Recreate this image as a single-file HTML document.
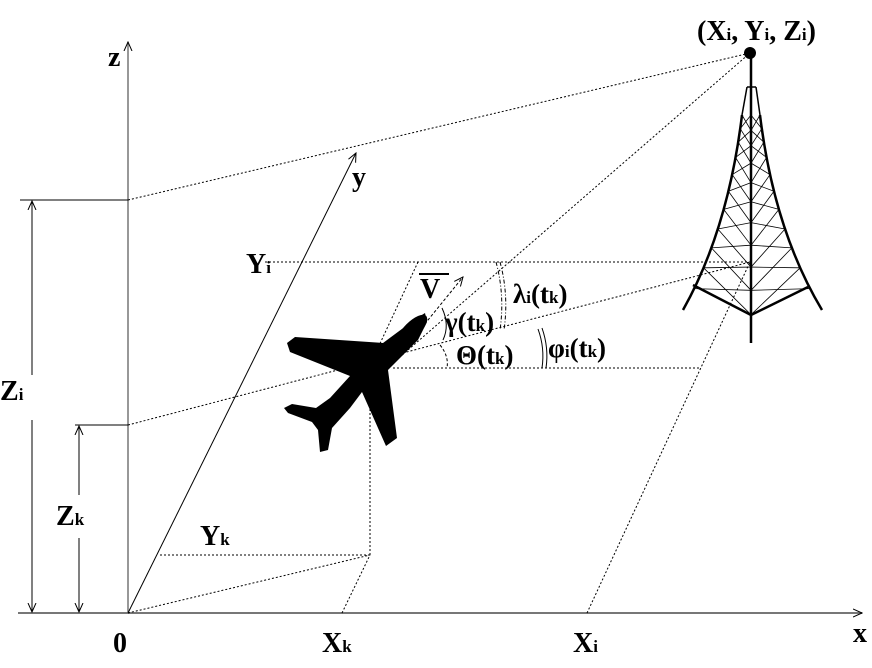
<!DOCTYPE html>
<html><head><meta charset="utf-8"><style>
html,body{margin:0;padding:0;background:#fff;}
svg text{font-family:"Liberation Serif",serif;font-weight:bold;fill:#000;}
</style></head><body>
<svg id="s" width="872" height="663" viewBox="0 0 872 663" xmlns="http://www.w3.org/2000/svg">
<defs>
<marker id="ar" markerWidth="10" markerHeight="10" refX="9" refY="5" orient="auto" markerUnits="userSpaceOnUse"><path d="M0,1 L9,5 L0,9" fill="none" stroke="#000" stroke-width="1"/></marker>
</defs>
<g stroke-width="1" fill="none">
<line x1="18" y1="613" x2="862" y2="613" stroke="#777" stroke-width="2" marker-end="url(#ar)"/>
<line x1="128" y1="613" x2="128" y2="42" stroke="#777" stroke-width="1.5" marker-end="url(#ar)"/>
<line x1="128" y1="613" x2="356" y2="153" stroke="#000" marker-end="url(#ar)"/>
</g>
<g stroke="#000" stroke-width="1" fill="none">
<line x1="20" y1="200" x2="128" y2="200"/>
<line x1="75" y1="425" x2="128" y2="425"/>
<line x1="32" y1="375" x2="32" y2="201" marker-end="url(#ar)"/>
<line x1="32" y1="420" x2="32" y2="612" marker-end="url(#ar)"/>
<line x1="79" y1="495" x2="79" y2="426" marker-end="url(#ar)"/>
<line x1="79" y1="538" x2="79" y2="612" marker-end="url(#ar)"/>
</g>
<g stroke="#000" stroke-width="1" stroke-dasharray="2,2" fill="none">
<line x1="128" y1="200" x2="750" y2="53"/>
<line x1="128" y1="425" x2="750" y2="262"/>
<line x1="393" y1="363" x2="750" y2="53"/>
<line x1="265" y1="262" x2="750" y2="262"/>
<line x1="393" y1="368" x2="700" y2="368"/>
<line x1="587" y1="613" x2="750" y2="262"/>
<line x1="418" y1="262" x2="370" y2="365"/>
<line x1="370" y1="365" x2="370" y2="555"/>
<line x1="160" y1="555" x2="370" y2="555"/>
<line x1="128" y1="613" x2="370" y2="555"/>
<line x1="342" y1="613" x2="370" y2="555"/>
</g>
<line x1="393" y1="363" x2="463" y2="277" stroke="#000" stroke-width="1" stroke-dasharray="3,2" marker-end="url(#ar)"/>
<polygon fill="#000" points="425,313 414,320 383,343 295,337 287,343 290,352 350,376 330,398 316,408 292,404 284,408 288,413 312,422 318,430 320,452 328,450 332,428 350,408 362,392 386,446 397,438 388,370 418,340 427,322"/>
<ellipse cx="412" cy="330" rx="20" ry="8" transform="rotate(-45 412 330)" fill="#000"/>
<g fill="none" stroke="#000" stroke-width="1">
<path d="M442,308 Q450,325 443,340"/>
<path d="M440,345 Q449,356 447,368" stroke-dasharray="3,2"/>
<path d="M496,262 Q505,295 500,330" stroke-dasharray="4,2,1,2"/>
<path d="M500,262 Q509,295 504,330" stroke-dasharray="4,2,1,2"/>
<path d="M538,329 Q545,348 542,368"/>
<path d="M542,328 Q549,348 546,368"/>
</g>
<g id="tower" stroke="#000" fill="none"></g>
<circle cx="750" cy="53" r="6" fill="#000"/>
<g>
<text x="697" y="40" font-size="28">(X<tspan font-size="17">i</tspan>, Y<tspan font-size="17">i</tspan>, Z<tspan font-size="17">i</tspan>)</text>
<text x="108" y="66" font-size="28">z</text>
<text x="352" y="186" font-size="28">y</text>
<text x="853" y="642" font-size="28">x</text>
<text x="113" y="652" font-size="28">0</text>
<text x="322" y="652" font-size="28">X<tspan font-size="17">k</tspan></text>
<text x="573" y="652" font-size="28">X<tspan font-size="17">i</tspan></text>
<text x="0" y="400" font-size="28">Z<tspan font-size="17">i</tspan></text>
<text x="56" y="525" font-size="28">Z<tspan font-size="17">k</tspan></text>
<text x="200" y="545" font-size="28">Y<tspan font-size="17">k</tspan></text>
<text x="246" y="273" font-size="28">Y<tspan font-size="17">i</tspan></text>
<text x="420" y="298" font-size="28">V</text>
<line x1="419" y1="274" x2="449" y2="274" stroke="#000" stroke-width="2"/>
<text x="445" y="331" font-size="27">γ(t<tspan font-size="17">k</tspan>)</text>
<text x="513" y="303" font-size="27">λ<tspan font-size="17">i</tspan>(t<tspan font-size="17">k</tspan>)</text>
<text x="456" y="364" font-size="27">Θ(t<tspan font-size="17">k</tspan>)</text>
<text x="548" y="357" font-size="27">φ<tspan font-size="17">i</tspan>(t<tspan font-size="17">k</tspan>)</text>
</g>
</svg>
<script>
var g=document.getElementById('tower');
function ln(x1,y1,x2,y2,w){var l=document.createElementNS('http://www.w3.org/2000/svg','line');
l.setAttribute('x1',x1);l.setAttribute('y1',y1);l.setAttribute('x2',x2);l.setAttribute('y2',y2);l.setAttribute('stroke-width',w);


g.appendChild(l);}
function pth(d,w){var p=document.createElementNS('http://www.w3.org/2000/svg','path');p.setAttribute('d',d);p.setAttribute('stroke-width',w);


g.appendChild(p);}
pth('M742,115 Q728,230 683,310',2.5);
pth('M760,115 Q774,230 822,310',2.5);
ln(751,53,751,343,2.5);
ln(747,87,742,115,1.5);ln(756,87,760,115,1.5);ln(747,87,756,87,1.5);
ln(693,285,751,315,2.5);ln(751,315,808,287,2.5);
function lx(t){var a=1-t;return a*a*742+2*a*t*728+t*t*683;}
function rx(t){var a=1-t;return a*a*760+2*a*t*774+t*t*822;}
function yy(t){var a=1-t;return a*a*115+2*a*t*230+t*t*310;}
var ts=[0,0.06,0.12,0.19,0.27,0.35,0.44,0.54,0.64,0.75,0.87];
for(var i=0;i<ts.length-1;i++){var t1=ts[i],t2=ts[i+1];
var cy1=yy(t1)+(t1)*30,cy2=yy(t2)+(t2)*30;
ln(lx(t1),yy(t1),751,cy2,0.8);ln(751,cy1,lx(t2),yy(t2),0.8);
ln(rx(t1),yy(t1),751,cy2,0.8);ln(751,cy1,rx(t2),yy(t2),0.8);}
</script>
</body></html>
